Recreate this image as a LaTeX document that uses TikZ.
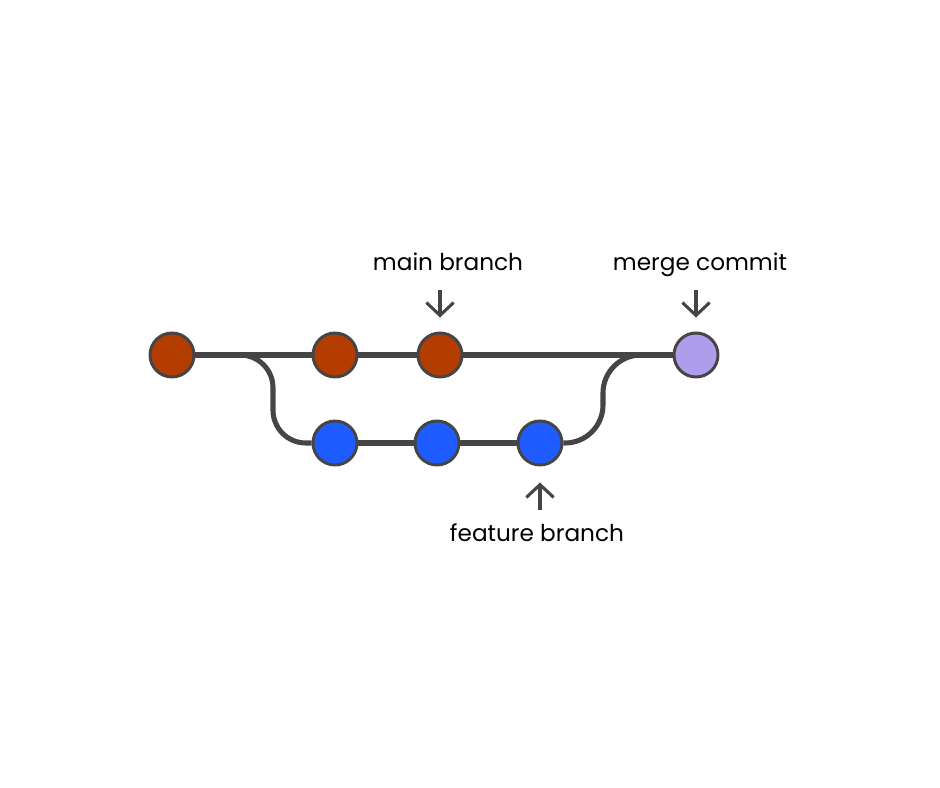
\documentclass[tikz,border=0pt]{standalone}
\usepackage{fontspec}
\setmainfont{Poppins}
\usepackage{tikz}
\usetikzlibrary{arrows.meta}
\definecolor{edgegray}{HTML}{454545}
\definecolor{mainred}{HTML}{B33C00}
\definecolor{featblue}{HTML}{1F5CFF}
\definecolor{mergepurple}{HTML}{AE9DEA}
\tikzset{
  commit/.style={circle, draw=edgegray, line width=2.1pt, minimum size=1.1cm, inner sep=0},
  branchline/.style={edgegray, line width=3.6pt},
  pointer/.style={edgegray, line width=2.2pt, -{Straight Barb[length=3.2mm, width=6.8mm]}},
  lbl/.style={anchor=base, inner sep=0, font=\fontsize{16.5}{20}\selectfont}
}

\begin{document}
\begin{tikzpicture}[x=0.025cm, y=-0.025cm]
  \useasboundingbox (0,0) rectangle (940,788);
  % main line
  \node[commit, fill=mainred] (c1) at (172,355) {};
  \node[commit, fill=mainred] (c2) at (335,355) {};
  \node[commit, fill=mainred] (c3) at (440,355) {};
  \node[commit, fill=mergepurple] (m) at (696,355) {};
  % feature line
  \node[commit, fill=featblue] (f1) at (335,443) {};
  \node[commit, fill=featblue] (f2) at (437,443) {};
  \node[commit, fill=featblue] (f3) at (540,443) {};
  \coordinate (split) at (273,443);
  \coordinate (join) at (603,443);
  \draw[branchline] (c1) -- (c2);
  \draw[branchline] (c2) -- (c3);
  \draw[branchline] (c3) -- (m);
  \draw[branchline] (f1) -- (f2);
  \draw[branchline] (f2) -- (f3);
  \draw[branchline, rounded corners=0.82cm] (c1) -| (split) -- (f1);
  \draw[branchline, rounded corners=0.95cm] (f3) -- (join) |- (m);
  % labels
  \node[lbl] (mainlbl) at (448,270) {main branch};
  \node[lbl] (mergelbl) at (700,270) {merge commit};
  \node[lbl] (featlbl) at (537,541) {feature branch};
  \draw[pointer, shorten <=0.5cm, shorten >=0.35cm] (c3 |- mainlbl.base) -- (c3);
  \draw[pointer, shorten <=0.5cm, shorten >=0.35cm] (m |- mergelbl.base) -- (m);
  \draw[pointer, shorten <=0.78cm, shorten >=0.4cm] (f3 |- featlbl.base) -- (f3);
\end{tikzpicture}
\end{document}
